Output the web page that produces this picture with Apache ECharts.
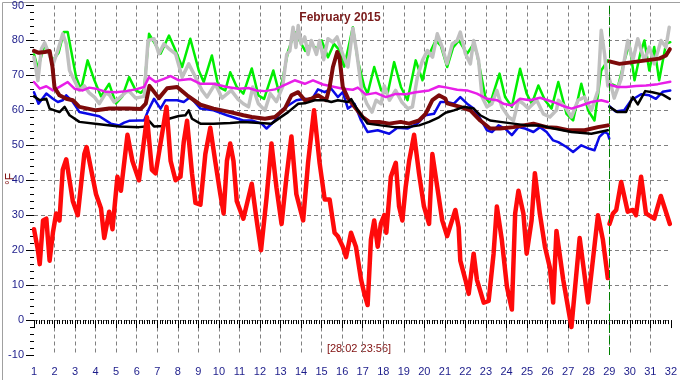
<!DOCTYPE html>
<html><head><meta charset="utf-8">
<script src="https://cdn.jsdelivr.net/npm/echarts@6/dist/echarts.min.js"></script>
<style>html,body{margin:0;padding:0;background:#fff}#c{width:680px;height:380px}</style>
</head><body><div id="c"></div>
<script>
const titleText = 'February 2015';
const stampText = '[28:02 23:56]';
const unitText = '°F';
const xMin = 1, xMax = 32, yMin = -10, yMax = 90;

const redA = [[1.00,26],[1.19,20],[1.28,16],[1.44,28.5],[1.60,29],[1.76,17],[1.92,25],[2.08,30.5],[2.24,28.5],[2.40,43],[2.57,46],[2.73,40],[2.89,34],[3.13,30],[3.45,47.5],[3.56,49.5],[3.85,41],[4.02,36],[4.26,32],[4.42,23.5],[4.66,31],[4.82,26],[5.06,41],[5.23,37],[5.55,53],[5.79,45.5],[6.11,40],[6.50,58],[6.74,43],[6.92,42],[7.45,61],[7.65,45.5],[7.89,40],[8.13,41],[8.29,51],[8.45,57],[8.69,42],[8.86,33.5],[9.10,33],[9.34,47.5],[9.58,55],[9.82,45.5],[10.07,36],[10.23,30.5],[10.39,45.5],[10.55,50.5],[10.71,45.5],[10.87,34],[11.19,29],[11.28,28.5],[11.6,39],[11.84,28.5],[12.05,20],[12.32,35],[12.56,50.5],[12.8,38],[13.05,27.5],[13.29,41],[13.53,52.5],[13.77,36],[14.1,28.5],[14.34,45],[14.63,60],[14.9,45],[15.15,34.5],[15.39,34.5],[15.63,25],[15.79,24],[16.03,21],[16.19,18],[16.43,25],[16.67,21],[16.92,11.5],[17.08,7.5],[17.24,4.3],[17.4,23],[17.56,28.5],[17.73,21],[17.88,27.5],[18.05,30],[18.15,25],[18.37,41],[18.61,45],[18.77,32.5],[18.93,28.5],[19.09,38],[19.26,45.5],[19.5,53],[19.74,42],[19.98,32.5],[20.23,27.5],[20.39,47.5],[20.63,38],[20.87,28.5],[21.11,24],[21.35,28.5],[21.51,31.5],[21.67,26.5],[21.75,17],[22.0,11.5],[22.16,7.5],[22.4,19],[22.56,11.5],[22.89,5],[23.13,5.5],[23.37,19],[23.53,32.5],[23.77,23],[24.02,9.5],[24.26,3],[24.42,30.5],[24.58,37],[24.82,30.5],[24.98,19],[25.22,28.5],[25.38,42],[25.62,30.5],[25.87,21],[26.11,15],[26.27,5],[26.43,25.5],[26.76,11.5],[27.16,-2],[27.56,23.5],[27.97,5],[28.45,30],[28.69,23],[28.93,12]];
const redB = [[29.01,27.5],[29.18,30.5],[29.34,31.5],[29.58,39.5],[29.9,31],[30.15,31.5],[30.3,30],[30.55,41],[30.79,30.5],[31.19,29],[31.51,35.5],[31.95,27.5]];

const greenA = [[1.00,76],[1.19,72],[1.52,79],[1.92,74.3],[2.2,76.5],[2.45,82.4],[2.64,82.4],[3.05,69.5],[3.29,66],[3.61,74.3],[3.94,68.6],[4.26,64],[4.66,67.6],[4.99,62],[5.3,64],[5.63,69.5],[5.95,65.7],[6.2,65],[6.36,66],[6.6,81.9],[6.84,79.5],[7.16,76.2],[7.57,81.4],[7.89,77.1],[8.21,72.4],[8.61,80.5],[9.02,71.4],[9.26,68.1],[9.66,75.7],[9.98,66.7],[10.31,65.7],[10.55,70.9],[10.87,66.7],[11.19,64.8],[11.6,72],[11.92,64.3],[12.2,63.3],[12.65,71.4],[12.95,64.5],[13.37,77],[13.7,82.4],[14.2,77],[14.5,79],[14.76,77.6],[15.0,80],[15.31,75.2],[15.6,79],[15.9,77],[16.1,72.5],[16.52,83.8],[16.76,74.3],[17.08,66.7],[17.24,64.8],[17.56,72.4],[17.9,65.7],[18.21,64.8],[18.53,73.8],[18.86,66.7],[19.18,62.9],[19.58,74.3],[19.91,68.6],[20.15,75],[20.55,80],[20.8,78.5],[21.11,72.4],[21.4,78],[21.68,80],[22.08,76.2],[22.4,79],[22.56,76.2],[22.72,71.4],[22.97,63.8],[23.2,61.9],[23.66,70.5],[23.93,63.8],[24.26,61],[24.66,71.9],[24.98,64.8],[25.23,61.9],[25.55,67.1],[25.87,62.9],[26.19,60.5],[26.52,68.1],[26.92,59],[27.24,57.1],[27.64,67.6],[27.97,60],[28.28,57.1],[28.61,71.4],[28.93,74.3]];
const greenB = [[29.09,67.6],[29.42,66.7],[29.74,74.3],[29.98,79],[30.23,68.6],[30.5,76],[30.71,80],[30.95,71.4],[31.19,78.1],[31.43,68.6],[31.76,79],[31.97,79.5]];

const grayA = [[1.00,75.2],[1.19,68.5],[1.36,77.6],[1.52,79.3],[1.76,75.7],[1.92,73],[2.15,77],[2.4,81.9],[2.57,79],[2.73,71.4],[2.97,68.5],[3.21,65.7],[3.45,67],[3.69,65],[3.94,63.8],[4.18,61.9],[4.5,65],[4.66,64.5],[4.9,62.4],[5.15,63.5],[5.47,65.2],[5.63,65.5],[5.95,63.5],[6.36,64],[6.55,80],[6.84,80.5],[7.08,76.2],[7.32,79],[7.57,77.6],[7.89,76.2],[8.21,69.5],[8.53,73.3],[8.86,69.5],[9.18,65.7],[9.42,63.8],[9.82,67.6],[10.15,63.5],[10.6,65.7],[10.91,63.3],[11.19,61.9],[11.44,61],[11.65,66.7],[11.92,61.9],[12.24,60],[12.5,64.8],[12.8,62.5],[13.1,66.7],[13.3,76],[13.45,77],[13.61,83.8],[13.75,78],[13.86,84.3],[14.0,79],[14.18,81],[14.34,76],[14.5,80],[14.75,76],[14.9,80],[15.1,74.5],[15.31,80.5],[15.55,79.5],[15.75,81],[16.03,76],[16.28,72.4],[16.52,83.5],[16.7,77],[16.95,65.7],[17.2,61.9],[17.45,59.5],[17.65,62.9],[17.9,61.9],[18.05,67],[18.3,62.9],[18.6,65.7],[18.9,62.4],[19.2,60.5],[19.42,61],[19.66,69.5],[19.91,74.3],[20.15,77.1],[20.4,75.2],[20.63,81.9],[20.87,78.1],[21.1,73.3],[21.36,79],[21.6,80],[21.75,82.4],[22.0,76.2],[22.24,73.3],[22.4,80],[22.64,74.3],[22.81,63.8],[23.05,61],[23.29,61.9],[23.53,65.7],[23.77,61],[24.1,58.1],[24.34,57.1],[24.58,62.9],[24.82,61.9],[25.06,60.5],[25.47,62.9],[25.79,59],[26.11,58.1],[26.43,60],[26.52,62.9],[26.85,61],[27.16,58.1],[27.48,62.9],[27.8,63.8],[28.13,60],[28.45,65.7],[28.61,82.9],[28.77,76.2],[28.93,67]];
const grayB = [[29.01,69],[29.24,63.5],[29.58,69],[29.9,80],[30.15,74.3],[30.39,80.5],[30.71,74.3],[30.95,78.1],[31.19,73.3],[31.52,80],[31.76,78.1],[31.92,83.8]];

const magentaA = [[1.0,68.1],[1.28,66.2],[1.6,66.9],[1.92,65.7],[2.24,66.7],[2.64,68.1],[2.97,66.2],[3.37,65.7],[3.69,66.5],[4.02,66.2],[4.5,65.3],[4.99,65.2],[5.47,65.5],[5.95,66],[6.36,66.7],[6.6,69.5],[6.92,68.1],[7.32,69],[7.65,69.8],[8.05,68.6],[8.61,69],[9.1,67.6],[9.74,67.6],[10.39,66.7],[10.95,66.2],[11.44,66.4],[11.84,65.7],[12.24,65.5],[12.73,66],[13.21,67.3],[13.69,68.6],[14.18,67.6],[14.58,68.6],[15.07,67.4],[15.63,66.7],[16.03,66.2],[16.52,65.9],[16.76,66.5],[17.16,64.5],[17.64,65],[18.13,63.8],[18.61,64.7],[19.09,64.6],[19.58,65.2],[20.23,65.7],[20.71,66.9],[21.11,66.5],[21.6,65.9],[22.08,65.7],[22.56,64.8],[23.05,63.3],[23.53,62.9],[23.85,61.9],[24.26,61.4],[24.66,63.3],[25.14,62.9],[25.63,63.6],[26.27,62.4],[26.68,61.4],[27.16,60.5],[27.64,61.4],[28.13,62.4],[28.61,62.9],[28.93,62.4]];
const magentaB = [[29.01,67.3],[29.42,66.7],[29.82,66.7],[30.3,67],[30.79,67.1],[31.36,67.5],[31.97,68.2]];

const maroonA = [[1.0,77],[1.2,76.5],[1.52,76.7],[1.76,77],[1.9,72.4],[2.0,66.5],[2.24,64.3],[2.57,63.3],[2.89,62.9],[3.21,61],[4.02,60],[4.66,60.5],[5.63,60.5],[6.2,60.4],[6.44,61.9],[6.62,67],[7.08,63.5],[7.48,66.3],[7.97,66.7],[8.45,64.3],[9.1,61.6],[9.74,60.5],[10.55,59.5],[11.19,58.6],[11.6,58.1],[12.24,57.6],[12.73,58.1],[13.21,60.5],[13.53,64.3],[13.86,65.2],[14.18,62.9],[14.5,63.3],[14.82,64.3],[15.22,62.9],[15.39,66.7],[15.55,72.4],[15.76,76.7],[15.87,75.2],[16.03,66.7],[16.28,63.5],[16.6,61],[17.0,58.1],[17.32,56.7],[17.81,56.7],[18.29,56.2],[18.85,56.7],[19.26,56.2],[19.74,57.1],[20.06,59],[20.39,62.9],[20.71,64.3],[21.03,63.3],[21.11,62],[21.75,61],[22.24,60],[22.72,57.1],[23.2,54.8],[23.69,54.8],[24.34,55.2],[25.31,56.2],[25.95,55.2],[26.43,55],[27.0,54.3],[27.8,54.3],[28.45,55.2],[28.93,55.7]];
const maroonB = [[29.01,74],[29.5,73.3],[30.15,73.8],[30.79,74.3],[31.43,74.8],[31.76,75.7],[31.95,77.5]];

const blueA = [[1.0,65.2],[1.22,61.9],[1.6,64.8],[1.92,63.3],[2.16,62.4],[2.4,62.9],[2.57,64.3],[2.89,62.4],[3.05,61],[3.21,59.5],[3.61,59],[4.18,58.3],[4.74,56.2],[5.15,55.7],[5.39,56.5],[5.63,57],[6.11,57.1],[6.36,57.1],[6.6,60.5],[6.84,63.3],[7.16,60.5],[7.4,62.9],[7.97,62.9],[8.29,62.4],[8.61,63.8],[9.1,60.5],[9.74,60],[10.39,58.6],[11.19,57.1],[11.6,57.1],[12.08,56.2],[12.32,54.8],[12.73,57.1],[13.05,60],[13.37,61.4],[13.77,62.9],[14.18,63.3],[14.5,62.9],[14.82,66],[15.15,65.2],[15.47,66.2],[15.79,63.8],[16.03,65.2],[16.28,60.5],[16.6,61.9],[16.92,57.1],[17.24,53.8],[17.73,54.3],[18.29,53.3],[18.69,55],[19.18,54.8],[19.66,56.2],[20.06,58.6],[20.47,59],[20.79,62.4],[21.11,62.4],[21.44,61.9],[21.75,63.8],[22.08,61.9],[22.4,60.5],[22.72,57.6],[23.05,54.3],[23.29,53.8],[23.61,55.7],[23.93,54.8],[24.26,52.9],[24.58,55.2],[24.9,54.8],[25.31,53.8],[25.63,55.2],[25.95,53.8],[26.27,51.4],[26.52,50.9],[26.92,49.5],[27.24,48.1],[27.64,50],[28.04,49],[28.28,48.6],[28.52,52.4],[28.77,53.8],[28.93,53.3],[29.0,51.9]];
const blueB = [[29.01,61.2],[29.3,59.7],[29.72,60],[30.07,62.9],[30.55,64.6],[30.95,64.3],[31.27,63.3],[31.6,65.3],[31.97,65.7]];

const blackA = [[1.0,64],[1.28,62.9],[1.6,63.3],[1.76,60.5],[2.0,60],[2.24,59.5],[2.49,61],[2.73,58.6],[3.21,56.7],[4.18,56],[5.15,55.4],[6.11,55.2],[6.44,55.4],[6.6,57],[6.84,55.4],[7.32,55.5],[7.57,57.6],[8.05,58.4],[8.37,58.6],[8.53,60],[8.69,57.6],[9.1,56.2],[9.74,56.2],[10.55,56.4],[11.19,56.7],[12.0,56.4],[12.56,56.2],[13.05,58.2],[13.37,59.5],[13.86,61.9],[14.18,62],[14.66,62.9],[15.15,62.9],[15.47,62.4],[15.79,62.9],[16.28,62.4],[16.44,63.2],[16.76,60],[17.24,56.2],[17.89,55.7],[18.53,55.2],[19.18,55.2],[19.75,55.7],[20.23,56.7],[20.71,58],[21.03,59.3],[21.44,60],[21.92,61],[22.4,60.5],[22.72,58.6],[23.2,57.1],[23.69,56.7],[24.34,56.2],[24.98,55.7],[25.63,55.7],[26.3,54.8],[27.16,53.8],[28.13,53.3],[28.93,54.3]];
const blackB = [[29.01,61],[29.4,59.5],[29.82,59.5],[30.15,63.8],[30.39,61.7],[30.75,65.5],[31.1,65.2],[31.6,64.5],[31.95,63.3]];

const cutDay = 29;

function pair(name, color, width, a, b) {
  const base = {type:'line', showSymbol:false, symbol:'none', silent:true, animation:false,
    lineStyle:{color:color, width:width, join:'round', cap:'round'}};
  return [Object.assign({name:name, data:a}, base), Object.assign({name:name+'2', data:b}, base)];
}

const series = [].concat(
  pair('green', '#00ee00', 2.5, greenA, greenB),
  pair('gray', '#c0c0c0', 3.5, grayA, grayB),
  pair('magenta', '#e81ee8', 2.5, magentaA, magentaB),
  pair('blue', '#0a0ae6', 2.5, blueA, blueB),
  pair('maroon', '#7d0a0a', 4, maroonA, maroonB),
  pair('black', '#000000', 2.5, blackA, blackB),
  pair('red', '#ff0a0a', 4.5, redA, redB)
);
series[0].markLine = {silent:true, symbol:'none', animation:false, label:{show:false},
  lineStyle:{color:'#008000', type:[8,3], width:1}, data:[{xAxis:cutDay}]};

const labelFont = {color:'#1c1c8a', fontSize:11, fontFamily:'Liberation Sans, Arial, sans-serif'};
const chart = echarts.init(document.getElementById('c'), null, {renderer:'canvas'});
chart.setOption({
  animation:false,
  backgroundColor:'#ffffff',
  grid:{left:34, right:5, top:5, bottom:25, containLabel:false},
  xAxis:{type:'value', min:xMin, max:xMax, interval:1,
    axisLine:{show:false},
    axisTick:{show:true, length:8, lineStyle:{color:'#000', width:1}},
    minorTick:{show:true, splitNumber:8, length:4, lineStyle:{color:'#000', width:1}},
    axisLabel:Object.assign({margin:11}, labelFont),
    splitLine:{show:true, showMinLine:false, showMaxLine:false, lineStyle:{color:'#808080', type:[4,3], width:1}}},
  yAxis:{type:'value', min:yMin, max:yMax, interval:10,
    axisLine:{show:false},
    axisTick:{show:true, length:8, lineStyle:{color:'#000', width:1}},
    minorTick:{show:true, splitNumber:5, length:4, lineStyle:{color:'#000', width:1}},
    axisLabel:Object.assign({margin:10}, labelFont),
    splitLine:{show:true, showMinLine:false, showMaxLine:false, lineStyle:{color:'#808080', type:[4,3], width:1}}},
  title:{text:titleText, left:'center', top:12, padding:0,
    textStyle:{color:'#7a1a1a', fontSize:12, fontWeight:'bold', fontFamily:'Liberation Sans, Arial, sans-serif'}},
  graphic:[
    {type:'rect', left:0, top:0, shape:{x:0.5, y:0.5, width:679, height:379}, style:{fill:'none', stroke:'#a0a0a0', lineWidth:1}, silent:true},
    {type:'text', x:359, y:349, style:{text:stampText, align:'center', verticalAlign:'middle', fill:'#801010', fontSize:11, fontFamily:'Liberation Sans, Arial, sans-serif'}, silent:true},
    {type:'text', x:11, y:179, rotation:Math.PI/2, style:{text:unitText, align:'center', verticalAlign:'middle', fill:'#801010', fontSize:12, fontFamily:'Liberation Sans, Arial, sans-serif'}, silent:true}
  ],
  series:series
});
</script></body></html>
